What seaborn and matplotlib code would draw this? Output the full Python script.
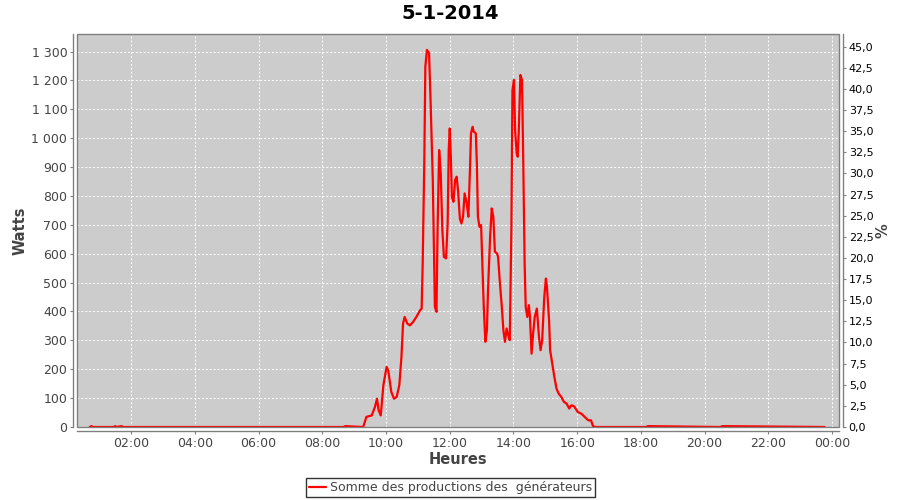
import pandas as pd
import numpy as np
import matplotlib
matplotlib.use("Agg")
import matplotlib.pyplot as plt
import matplotlib.dates as mdates
from matplotlib.patches import Rectangle
from matplotlib.ticker import FuncFormatter, MultipleLocator
import seaborn as sns

# ---------- data (heure, watts) ----------
jour = "2014-01-05"
heures = ["00:42", "00:45", "00:48", "01:27", "01:30", "01:33", "01:42", "01:45",
          "05:00", "08:40", "08:43", "09:17",
          "09:23", "09:33", "09:39", "09:43", "09:46", "09:50", "09:55",
          "10:01", "10:04", "10:10", "10:15", "10:20", "10:25", "10:29", "10:32",
          "10:35", "10:40", "10:45", "10:51", "10:57", "11:04", "11:07", "11:09",
          "11:12", "11:14", "11:17", "11:21", "11:24", "11:28", "11:30", "11:32",
          "11:35", "11:37", "11:40", "11:43", "11:46", "11:49", "11:53", "11:56",
          "11:58", "12:00", "12:02", "12:04", "12:07", "12:10", "12:13", "12:16",
          "12:19", "12:22", "12:25", "12:28", "12:32", "12:35", "12:38", "12:40",
          "12:43", "12:45", "12:49", "12:51", "12:53", "12:56", "12:59", "13:01",
          "13:04", "13:07", "13:10", "13:12", "13:16", "13:19", "13:22", "13:25",
          "13:29", "13:31", "13:34", "13:38", "13:41", "13:44", "13:47", "13:50",
          "13:53", "13:56", "13:58", "14:01", "14:03", "14:06", "14:08", "14:10",
          "14:13", "14:16", "14:18", "14:21", "14:23", "14:26", "14:29", "14:31",
          "14:34", "14:37", "14:40", "14:44", "14:48", "14:51", "14:54", "14:58",
          "15:01", "15:03", "15:07", "15:09", "15:13", "15:17", "15:21", "15:25",
          "15:30", "15:35", "15:40", "15:45", "15:49", "15:54", "16:01", "16:08",
          "16:14", "16:21", "16:26", "16:30", "16:35",
          "18:10", "18:13", "20:30", "20:33", "23:46"]
watts = [0, 3, 0, 0, 3, 0, 3, 0,
         0, 0, 3, 0,
         35, 40, 69, 98, 58, 40, 145,
         208, 197, 121, 98, 104, 145, 243, 358,
         381, 358, 352, 364, 381, 404, 410, 566,
         913, 1248, 1306, 1294, 1121, 855, 636, 416,
         399, 682, 959, 878, 682, 589, 584, 705,
         959, 1034, 936, 797, 780, 855, 867, 809,
         722, 705, 728, 809, 774, 728, 890, 1017,
         1040, 1023, 1017, 913, 728, 693, 699, 589,
         416, 295, 335, 474, 659, 757, 728, 607,
         601, 589, 509, 416, 335, 295, 341, 318,
         301, 682, 1167, 1202, 1028, 948, 936, 1028,
         1219, 1202, 971, 566, 416, 381, 422, 381,
         254, 324, 381, 410, 312, 266, 301, 451,
         514, 485, 370, 266, 220, 173, 133, 116,
         104, 87, 81, 64, 75, 72, 52, 46,
         35, 23, 23, 2, 0,
         0, 3, 0, 3, 0]

serie = "Somme des productions des  générateurs"
titre = "5-1-2014"
y_max_watts = 1361
y_max_pct = 46.5

df = pd.DataFrame({"heure": pd.to_datetime([jour + " " + h for h in heures]),
                   "watts": watts})

# ---------- style ----------
sns.set_theme(style="darkgrid", rc={
    "axes.facecolor": "#CCCCCC",
    "grid.color": "white",
    "grid.linestyle": (0, (2, 2)),
    "grid.linewidth": 0.7,
})
plt.rcParams["font.family"] = ["DejaVu Sans"]

fig = plt.figure(figsize=(9, 5), dpi=100)
ax = fig.add_axes([77 / 900, 73 / 500, 762 / 900, 393 / 500])

sns.lineplot(data=df, x="heure", y="watts", ax=ax, color="red", linewidth=1.6,
             label=serie, legend=False)

ax.set_ylim(0, y_max_watts)
ax.set_xlim(pd.Timestamp(jour + " 00:18"), pd.Timestamp("2014-01-06 00:13"))
ax.yaxis.set_major_locator(MultipleLocator(100))
ax.yaxis.set_major_formatter(FuncFormatter(lambda v, p: f"{int(v):,}".replace(",", " ")))
ax.xaxis.set_major_locator(mdates.HourLocator(byhour=range(0, 24, 2)))
ax.xaxis.set_major_formatter(mdates.DateFormatter("%H:%M"))
ax.set_xlabel("")
ax.set_ylabel("")

grey = "#808080"
for s in ["left", "bottom"]:
    ax.spines[s].set_visible(True)
    ax.spines[s].set_color(grey)
    ax.spines[s].set_linewidth(1)
    ax.spines[s].set_position(("outward", 3))
for s in ["top", "right"]:
    ax.spines[s].set_visible(False)
ax.tick_params(axis="both", which="major", length=2, width=0.8, color=grey,
               labelsize=9, labelcolor="#444444", pad=2)
ax.tick_params(axis="both", bottom=True, left=True)

# plot border
ax.add_patch(Rectangle((0, 0), 1, 1, transform=ax.transAxes, fill=False,
                       edgecolor=grey, linewidth=1, zorder=5, clip_on=False))

# right axis (%)
ax2 = ax.twinx()
ax2.set_ylim(0, y_max_pct)
ax2.yaxis.set_major_locator(MultipleLocator(2.5))
ax2.yaxis.set_major_formatter(FuncFormatter(lambda v, p: f"{v:.1f}".replace(".", ",")))
ax2.grid(False)
for s in ["left", "bottom", "top"]:
    ax2.spines[s].set_visible(False)
ax2.spines["right"].set_visible(True)
ax2.spines["right"].set_color(grey)
ax2.spines["right"].set_linewidth(1)
ax2.spines["right"].set_position(("outward", 3))
ax2.tick_params(axis="y", length=2, width=0.8, color=grey, labelsize=8,
                labelcolor="black", pad=2, right=True)

# texts
fig.text(0.5, 0.973, titre, ha="center", va="center", fontsize=14,
         fontweight="bold", color="black")
fig.text(0.022, 0.539, "Watts", ha="center", va="center", rotation=90,
         fontsize=10.5, fontweight="bold", color="#444444")
fig.text(0.981, 0.539, "%", ha="center", va="center", rotation=90,
         fontsize=10.5, fontweight="bold", color="#444444")
fig.text(0.509, 0.080, "Heures", ha="center", va="center",
         fontsize=10.5, fontweight="bold", color="#444444")

leg = fig.legend(handles=ax.get_lines()[:1], labels=[serie], loc="center",
                 bbox_to_anchor=(0.5006, 0.025), fontsize=9, frameon=True,
                 fancybox=False, handlelength=1.4, handletextpad=0.3,
                 borderpad=0.25, borderaxespad=0)
leg.get_frame().set_edgecolor("black")
leg.get_frame().set_linewidth(1)
leg.get_frame().set_facecolor("white")
for t in leg.get_texts():
    t.set_color("#444444")

fig.savefig("out.png", dpi=100, facecolor="white")
